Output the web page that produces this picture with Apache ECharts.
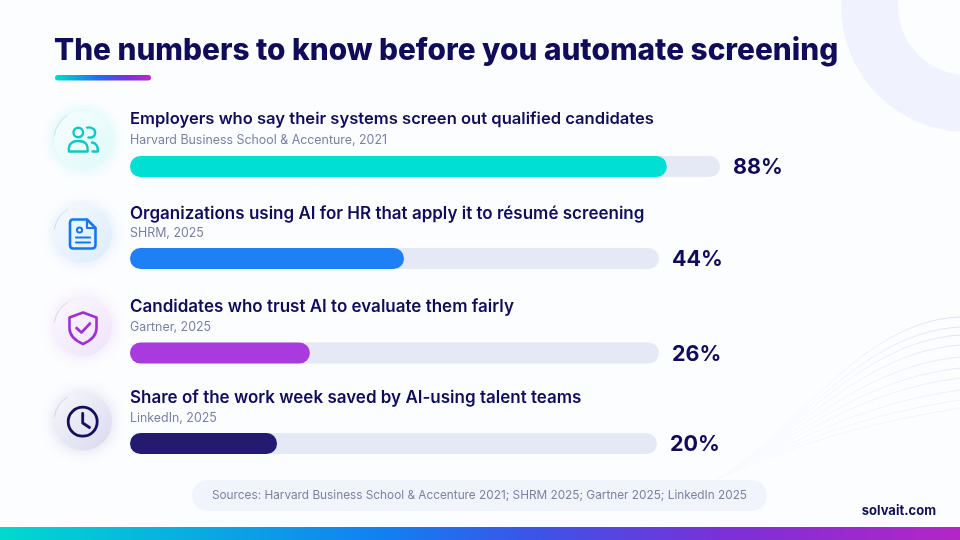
<!DOCTYPE html>
<html><head><meta charset="utf-8">
<style>html,body{margin:0;padding:0;background:#fcfdff}#c{width:960px;height:540px}</style>
<script src="https://cdn.jsdelivr.net/npm/echarts@6/dist/echarts.min.js"></script>
</head><body><div id="c"></div>
<script>
// Chart values
const chartTitle = 'The numbers to know before you automate screening';
const categories = [
  'Employers who say their systems screen out qualified candidates',
  'Organizations using AI for HR that apply it to résumé screening',
  'Candidates who trust AI to evaluate them fairly',
  'Share of the work week saved by AI-using talent teams'
];
const sources = ['Harvard Business School & Accenture, 2021','SHRM, 2025','Gartner, 2025','LinkedIn, 2025'];
// Printed figures
const printedValues = [88, 44, 26, 20];
// Drawn fill length as a share of each row's track (the reference bars are longer than the printed figures)
const drawnShare = [91, 51.8, 34, 27.9];
const trackFull = [100, 100, 100, 100];
const footnote = 'Sources: Harvard Business School & Accenture 2021; SHRM 2025; Gartner 2025; LinkedIn 2025';
const brand = 'solvait.com';

// Layout and style
const F = 'Inter, "Noto Sans", sans-serif';
const NAVY = '#100c5a';
const barColors = ['#00dfd3', '#1f80f5', '#a93adf', '#241a70'];
const iconColors = ['#0cc9c6', '#1478ee', '#a22fd6', '#14105f'];
const discTints = [['#f6fefe','#dffaf8'],['#f6faff','#dcebfb'],['#fbf7fe','#efe3fa'],['#f7f7fc','#d9d9ee']];
const glow = ['rgba(0,220,210,.2)','rgba(40,130,240,.16)','rgba(170,60,225,.16)','rgba(50,40,130,.16)'];
const rows = [
  {barY:156, w:590, titleY:119, srcY:140, discY:140, ts:16.6},
  {barY:248, w:529, titleY:213.5, srcY:233.5, discY:234, ts:17},
  {barY:342.5, w:529, titleY:306.5, srcY:327.5, discY:327, ts:17},
  {barY:433, w:527, titleY:398, srcY:418.5, discY:421.5, ts:17}
];
const BAR_H = 21, LEFT = 130;

const grid = [], xAxis = [], yAxis = [], series = [];
rows.forEach((r, i) => {
  grid.push({left: LEFT, top: r.barY, width: r.w, height: BAR_H, containLabel: false});
  xAxis.push({type:'value', gridIndex:i, min:0, max:100, show:false});
  yAxis.push({type:'category', gridIndex:i, data:[categories[i]], show:false});
  series.push({
    type:'bar', xAxisIndex:i, yAxisIndex:i, data:[trackFull[i]], barWidth:BAR_H, barGap:'-100%', silent:true,
    itemStyle:{color:'#e4e9f5', borderRadius:10.5},
    label:{show:true, position:'right', distance:13, offset:[0,1.5], formatter:() => printedValues[i] + '%',
      color:NAVY, fontFamily:F, fontWeight:700, fontSize:21.5}
  });
  series.push({
    type:'bar', xAxisIndex:i, yAxisIndex:i, data:[drawnShare[i]], barWidth:BAR_H, barGap:'-100%', silent:true,
    itemStyle:{color:barColors[i], borderRadius:10.5}, z:3
  });
});

const linear = (stops) => new echarts.graphic.LinearGradient(0,0,1,0,stops.map((c,i)=>({offset:c[0],color:c[1]})));
const gfx = [];
// background decoration
gfx.push({type:'ring', z:-5, shape:{cx:967,cy:6,r:126,r0:69}, style:{fill:'#f0f3fd'}});
[317,327,335,345,357,368,378,390,400,408].forEach((ey,k) => {
  const a = (0.5 - k * 0.035).toFixed(3);
  gfx.push({type:'bezierCurve', z:-5, shape:{x1:700,y1:488,cpx1:790,cpy1:445,cpx2:855,cpy2:ey+(k*1.5)+4,x2:960,y2:ey},
    style:{fill:null, lineWidth:1, stroke:new echarts.graphic.LinearGradient(700,0,960,0,[
      {offset:0,color:'rgba(190,198,235,0)'},{offset:.45,color:'rgba(190,198,235,.12)'},{offset:1,color:'rgba(190,198,235,'+a+')'}],true)}});
});
// title underline
gfx.push({type:'rect', shape:{x:55,y:75,width:96,height:5.5,r:2.75},
  style:{fill:linear([[0,'#00dcd0'],[.45,'#1f6ff0'],[.75,'#7a30dc'],[1,'#c025c8']])}});
// bottom strip
gfx.push({type:'rect', shape:{x:0,y:527,width:960,height:13},
  style:{fill:linear([[0,'#00d9d0'],[.4,'#1180f2'],[.55,'#3a55e8'],[.75,'#7a30d8'],[1,'#b425c6']])}});
// source pill
gfx.push({type:'rect', z:-1, shape:{x:192,y:480,width:575,height:31,r:15.5}, style:{fill:'#f1f4fb'}});
gfx.push({type:'text', style:{text:footnote,x:479.5,y:495.5,align:'center',verticalAlign:'middle',fill:'#7c82a2',font:'400 11.8px '+F}});
gfx.push({type:'text', style:{text:brand,x:936,y:511,align:'right',verticalAlign:'middle',fill:NAVY,font:'700 13px '+F}});
// row texts and discs
rows.forEach((r,i) => {
  gfx.push({type:'text', style:{text:categories[i],x:LEFT,y:r.titleY,verticalAlign:'middle',fill:NAVY,font:'600 '+r.ts+'px '+F}});
  gfx.push({type:'text', style:{text:sources[i],x:LEFT,y:r.srcY,verticalAlign:'middle',fill:'#7a80a2',font:'400 12.4px '+F}});
  gfx.push({type:'circle', shape:{cx:83,cy:r.discY,r:29},
    style:{fill:new echarts.graphic.LinearGradient(0,0,1,1,[{offset:0,color:discTints[i][0]},{offset:1,color:discTints[i][1]}]),
      shadowBlur:15, shadowColor:glow[i]}});
  gfx.push({type:'arc', shape:{cx:83,cy:r.discY,r:29,startAngle:Math.PI*1.05,endAngle:Math.PI*1.32},
    style:{fill:null,stroke:'rgba(170,185,215,.6)',lineWidth:.8}});
});
// icons
let iconId = 0;
const icon = (d,color,lw) => {
  const name = 'iconPath' + (iconId++);
  echarts.graphic.registerShape(name, echarts.graphic.extendPath(d, {}));
  return {type:name, style:{fill:null,stroke:color,lineWidth:lw,lineCap:'round',lineJoin:'round'}};
};
const ring = (x,y,r,c,lw) => ({type:'circle', shape:{cx:x,cy:y,r}, style:{fill:null,stroke:c,lineWidth:lw}});
// people
gfx.push(ring(78.3,132.5,4.8,iconColors[0],2.4));
gfx.push(icon('M69 151.5 C68 143 73 141 78 141 C84 141 88.5 143 87.5 151.5 Z',iconColors[0],2.4));
gfx.push(icon('M87 127.6 C92 126.5 96 130 95 134 C94.4 137 91 138 88.5 137.4',iconColors[0],2.4));
gfx.push(icon('M92 142.5 C96 143 98.5 146.5 97.8 151.5 L92.5 151.5',iconColors[0],2.4));
// document
gfx.push(icon('M73 219.5 L87 219.5 L95.5 228 L95.5 245 Q95.5 248.5 92 248.5 L73 248.5 Q70 248.5 70 245 L70 223 Q70 219.5 73 219.5 Z',iconColors[1],2.6));
gfx.push(icon('M87 219.5 L87 228 L95.5 228',iconColors[1],2.2));
gfx.push(ring(79.5,230,2.6,iconColors[1],2));
gfx.push(icon('M76 237.5 L90 237.5 M76 242.5 L90 242.5',iconColors[1],2.2));
// shield
gfx.push(icon('M83 312.5 L96.5 317.5 L96.5 328 C96.5 336 90 341 83 344 C76 341 69.5 336 69.5 328 L69.5 317.5 Z',iconColors[2],2.6));
gfx.push(icon('M76.5 328 L81.5 332.5 L90 323.5',iconColors[2],2.6));
// clock
gfx.push(ring(82.7,421.7,14.5,iconColors[3],2.8));
gfx.push(icon('M82.7 413.5 L82.7 423 L89.5 427.5',iconColors[3],2.8));

const chart = echarts.init(document.getElementById('c'), null, {renderer:'canvas'});
chart.setOption({
  animation:false,
  backgroundColor:'#fcfdff',
  title:{text:chartTitle, left:54, top:36.5, padding:0, textStyle:{color:NAVY,fontFamily:F,fontWeight:800,fontSize:29.8}},
  grid, xAxis, yAxis, series, graphic:{elements:gfx}
});
</script></body></html>
